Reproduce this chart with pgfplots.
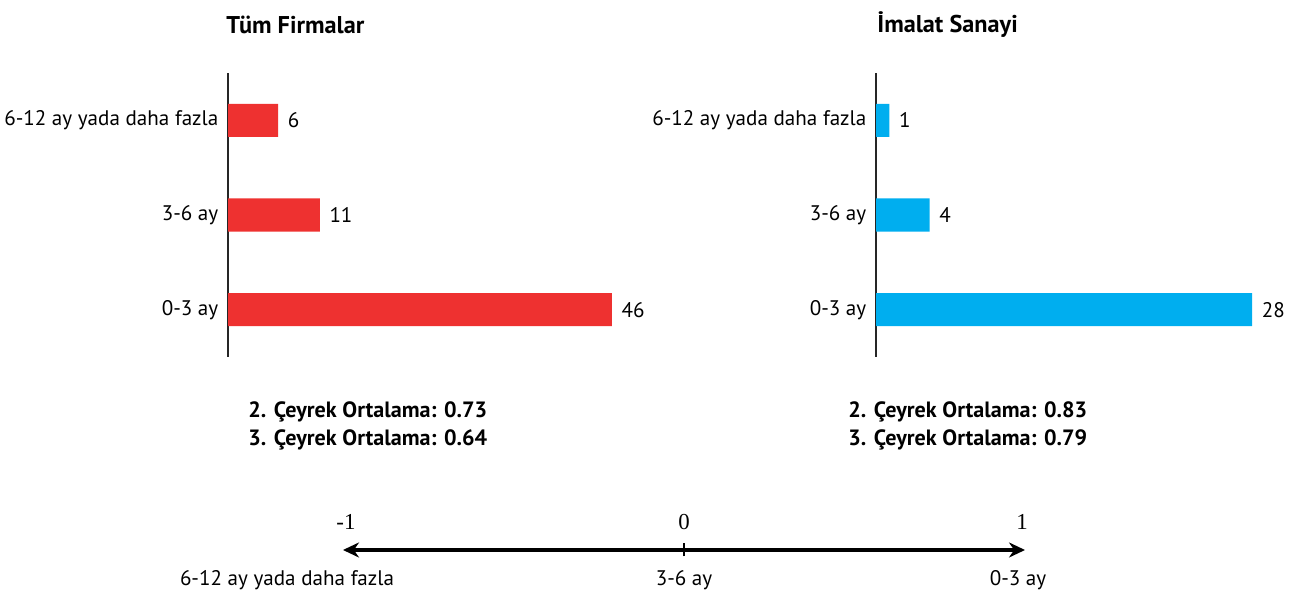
\documentclass[border=0pt]{standalone}
\usepackage{fontspec}
\setmainfont{PT Sans}
\newfontfamily\serif{Liberation Serif}
\usepackage{pgfplots}
\pgfplotsset{compat=1.18}
\usetikzlibrary{arrows.meta}

\definecolor{redbar}{HTML}{EE3130}
\definecolor{bluebar}{HTML}{00AEEF}

% 1 px of the reference = 0.02cm
\pgfplotsset{
  barpanel/.style={
    xbar, scale only axis, height=5.68cm,
    ymin=-0.5, ymax=2.5, xmin=0,
    axis y line*=left, axis x line=none,
    y axis line style={line width=0.6pt, black!85},
    ytick={0,1,2},
    yticklabels={0-3 ay,3-6 ay,6-12 ay yada daha fazla},
    major tick length=0pt,
    yticklabel style={font=\fontsize{12}{14}\selectfont, xshift=-2pt},
    bar width=0.35,
    /pgf/number format/assume math mode=true,
    nodes near coords,
    nodes near coords style={font=\fontsize{12}{14}\selectfont, black, anchor=west, xshift=2pt},
    clip=false,
  },
}

\begin{document}
\begin{tikzpicture}
\useasboundingbox (0,0) rectangle (25.96,11.9);

% Tum Firmalar
\begin{axis}[barpanel, at={(4.56cm,4.76cm)}, anchor=south west,
    width=8.01cm, xmax=48]
\addplot[fill=redbar, draw=none] coordinates {(46,0) (11,1) (6,2)};
\end{axis}

% Imalat Sanayi
\begin{axis}[barpanel, at={(17.52cm,4.76cm)}, anchor=south west,
    width=8.06cm, xmax=30]
\addplot[fill=bluebar, draw=none] coordinates {(28,0) (4,1) (1,2)};
\end{axis}

% titles
\node[font=\bfseries\fontsize{13.8}{16}\selectfont, anchor=west, inner sep=0pt] at (4.52,11.4) {Tüm Firmalar};
\node[font=\bfseries\fontsize{13.8}{16}\selectfont, anchor=west, inner sep=0pt] at (17.54,11.4) {İmalat Sanayi};

% averages
\tikzset{avg/.style={font=\bfseries\fontsize{12.6}{15}\selectfont, anchor=west, inner sep=0pt}}
\node[avg] at (4.96,3.66) {2. Çeyrek Ortalama: 0.73};
\node[avg] at (4.96,3.10) {3. Çeyrek Ortalama: 0.64};
\node[avg] at (16.96,3.66) {2. Çeyrek Ortalama: 0.83};
\node[avg] at (16.96,3.10) {3. Çeyrek Ortalama: 0.79};

% scale from -1 to 1
\begin{axis}[at={(6.86cm,0.9cm)}, anchor=west, scale only axis,
    width=13.64cm, height=1cm, xmin=-1, xmax=1, ymin=-1, ymax=1,
    axis x line=middle, axis y line=none,
    x axis line style={{Stealth[length=0.32cm,width=0.3cm]}-{Stealth[length=0.32cm,width=0.3cm]}, line width=2pt, black},
    xtick={0}, xticklabels={}, major tick length=0.26cm,
    tick style={line width=1.6pt, black},
    clip=false]
\node[font=\serif\fontsize{13}{15}\selectfont] at (axis cs:-1,0) [xshift=0.06cm, yshift=0.56cm] {-1};
\node[font=\serif\fontsize{13}{15}\selectfont] at (axis cs:0,0) [yshift=0.56cm] {0};
\node[font=\serif\fontsize{13}{15}\selectfont] at (axis cs:1,0) [xshift=-0.06cm, yshift=0.56cm] {1};
\node[font=\fontsize{12}{14}\selectfont] at (axis cs:-1,0) [xshift=-1.12cm, yshift=-0.6cm] {6-12 ay yada daha fazla};
\node[font=\fontsize{12}{14}\selectfont] at (axis cs:0,0) [yshift=-0.6cm] {3-6 ay};
\node[font=\fontsize{12}{14}\selectfont] at (axis cs:1,0) [xshift=-0.14cm, yshift=-0.6cm] {0-3 ay};
\end{axis}
\end{tikzpicture}
\end{document}
